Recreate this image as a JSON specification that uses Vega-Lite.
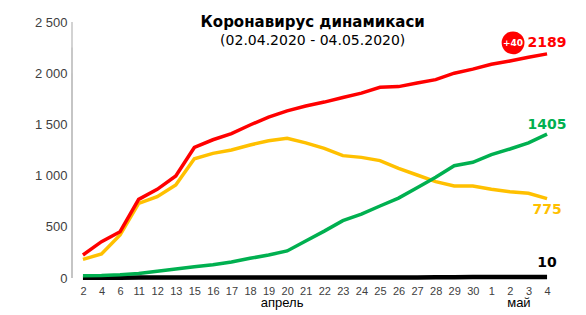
{
  "$schema": "https://vega.github.io/schema/vega-lite/v6.json",
  "width": 486,
  "height": 256,
  "autosize": "none",
  "padding": {"left": 72, "top": 22, "right": 28, "bottom": 37},
  "background": "white",
  "config": {"view": {"stroke": null}, "font": "Liberation Sans"},
  "data": {"values": [
    {"d": "04-02", "confirmed": 225, "active": 182, "recovered": 23, "deaths": 2},
    {"d": "04-04", "confirmed": 355, "active": 234, "recovered": 25, "deaths": 2},
    {"d": "04-06", "confirmed": 452, "active": 420, "recovered": 32, "deaths": 3},
    {"d": "04-11", "confirmed": 768, "active": 729, "recovered": 45, "deaths": 4},
    {"d": "04-12", "confirmed": 866, "active": 794, "recovered": 65, "deaths": 4},
    {"d": "04-13", "confirmed": 996, "active": 908, "recovered": 88, "deaths": 4},
    {"d": "04-15", "confirmed": 1275, "active": 1165, "recovered": 110, "deaths": 4},
    {"d": "04-16", "confirmed": 1350, "active": 1217, "recovered": 130, "deaths": 4},
    {"d": "04-17", "confirmed": 1410, "active": 1250, "recovered": 156, "deaths": 4},
    {"d": "04-18", "confirmed": 1494, "active": 1299, "recovered": 192, "deaths": 5},
    {"d": "04-19", "confirmed": 1572, "active": 1341, "recovered": 225, "deaths": 5},
    {"d": "04-20", "confirmed": 1632, "active": 1364, "recovered": 264, "deaths": 5},
    {"d": "04-21", "confirmed": 1680, "active": 1320, "recovered": 362, "deaths": 5},
    {"d": "04-22", "confirmed": 1718, "active": 1266, "recovered": 458, "deaths": 5},
    {"d": "04-23", "confirmed": 1762, "active": 1195, "recovered": 560, "deaths": 5},
    {"d": "04-24", "confirmed": 1805, "active": 1178, "recovered": 623, "deaths": 5},
    {"d": "04-25", "confirmed": 1862, "active": 1146, "recovered": 703, "deaths": 5},
    {"d": "04-26", "confirmed": 1869, "active": 1071, "recovered": 780, "deaths": 5},
    {"d": "04-27", "confirmed": 1904, "active": 1006, "recovered": 882, "deaths": 6},
    {"d": "04-28", "confirmed": 1937, "active": 941, "recovered": 983, "deaths": 7},
    {"d": "04-29", "confirmed": 2000, "active": 898, "recovered": 1097, "deaths": 8},
    {"d": "04-30", "confirmed": 2040, "active": 898, "recovered": 1130, "deaths": 9},
    {"d": "05-01", "confirmed": 2087, "active": 866, "recovered": 1205, "deaths": 9},
    {"d": "05-02", "confirmed": 2119, "active": 843, "recovered": 1260, "deaths": 10},
    {"d": "05-03", "confirmed": 2155, "active": 827, "recovered": 1320, "deaths": 10},
    {"d": "05-04", "confirmed": 2189, "active": 775, "recovered": 1405, "deaths": 10}
  ]},
  "encoding": {
    "x": {
      "field": "d", "type": "ordinal", "sort": null,
      "scale": {"type": "point", "padding": 0.59,
        "domain": ["04-02","04-04","04-06","04-11","04-12","04-13","04-15","04-16","04-17","04-18","04-19","04-20","04-21","04-22","04-23","04-24","04-25","04-26","04-27","04-28","04-29","04-30","05-01","05-02","05-03","05-04"]},
      "axis": {
        "title": null, "domain": false, "tickSize": 0, "tickOpacity": 0,
        "labelAngle": 0, "labelFontSize": 11, "labelColor": "#404040",
        "labelPadding": 7, "labelOverlap": false,
        "labelExpr": "toNumber(substring(datum.value, 3))"
      }
    }
  },
  "layer": [
    {"data": {"values": [{}]}, "mark": {"type": "rule", "color": "#c4c4c4", "strokeWidth": 1.5}, "encoding": {"y": {"datum": 0, "type": "quantitative"}}},
    {"data": {"values": [{}]}, "mark": {"type": "rule", "color": "#c4c4c4", "strokeWidth": 1.5}, "encoding": {"y": {"datum": 250, "type": "quantitative"}}},
    {"data": {"values": [{}]}, "mark": {"type": "rule", "color": "#c4c4c4", "strokeWidth": 1.5}, "encoding": {"y": {"datum": 500, "type": "quantitative"}}},
    {"data": {"values": [{}]}, "mark": {"type": "rule", "color": "#c4c4c4", "strokeWidth": 1.5}, "encoding": {"y": {"datum": 750, "type": "quantitative"}}},
    {"data": {"values": [{}]}, "mark": {"type": "rule", "color": "#c4c4c4", "strokeWidth": 1.5}, "encoding": {"y": {"datum": 1000, "type": "quantitative"}}},
    {"data": {"values": [{}]}, "mark": {"type": "rule", "color": "#c4c4c4", "strokeWidth": 1.5}, "encoding": {"y": {"datum": 1250, "type": "quantitative"}}},
    {"data": {"values": [{}]}, "mark": {"type": "rule", "color": "#c4c4c4", "strokeWidth": 1.5}, "encoding": {"y": {"datum": 1500, "type": "quantitative"}}},
    {"data": {"values": [{}]}, "mark": {"type": "rule", "color": "#c4c4c4", "strokeWidth": 1.5}, "encoding": {"y": {"datum": 1750, "type": "quantitative"}}},
    {"data": {"values": [{}]}, "mark": {"type": "rule", "color": "#c4c4c4", "strokeWidth": 1.5}, "encoding": {"y": {"datum": 2000, "type": "quantitative"}}},
    {"data": {"values": [{}]}, "mark": {"type": "rule", "color": "#c4c4c4", "strokeWidth": 1.5}, "encoding": {"y": {"datum": 2250, "type": "quantitative"}}},
    {"data": {"values": [{}]}, "mark": {"type": "rule", "color": "#c4c4c4", "strokeWidth": 1.5}, "encoding": {"y": {"datum": 2500, "type": "quantitative"}}},
    {
      "data": {"values": [{}]},
      "mark": {"type": "rect", "color": "white"},
      "encoding": {
        "x": {"datum": "04-13"}, "x2": {"datum": "04-28"},
        "y": {"datum": 2110, "type": "quantitative"},
        "y2": {"datum": 2600}
      }
    },
    {"mark": {"type": "line", "color": "#000000", "strokeWidth": 4.5},
      "encoding": {"y": {"field": "deaths", "type": "quantitative", "scale": {"domain": [0, 2500], "nice": false},
          "axis": {
            "title": null, "domain": false, "tickSize": 0, "tickOpacity": 0, "grid": false,
            "values": [0, 500, 1000, 1500, 2000, 2500],
            "labelExpr": "replace(format(datum.value, ','), ',', ' ')",
            "labelOverlap": false, "labelFontSize": 13, "labelColor": "#404040", "labelPadding": 5
          }}}},
    {"mark": {"type": "line", "color": "#ffc000", "strokeWidth": 3.5}, "encoding": {"y": {"field": "active", "type": "quantitative"}}},
    {"mark": {"type": "line", "color": "#00b050", "strokeWidth": 3.5}, "encoding": {"y": {"field": "recovered", "type": "quantitative"}}},
    {"mark": {"type": "line", "color": "#ff0000", "strokeWidth": 3.5}, "encoding": {"y": {"field": "confirmed", "type": "quantitative"}}},
    {
      "transform": [{"filter": "datum.d == '05-04'"}],
      "layer": [
        {"mark": {"type": "text", "font": "DejaVu Sans", "fontWeight": "bold", "fontSize": 14, "color": "#ff0000", "dy": -11},
          "encoding": {"y": {"field": "confirmed", "type": "quantitative"}, "text": {"field": "confirmed"}}},
        {"mark": {"type": "text", "font": "DejaVu Sans", "fontWeight": "bold", "fontSize": 14, "color": "#00b050", "dy": -9},
          "encoding": {"y": {"field": "recovered", "type": "quantitative"}, "text": {"field": "recovered"}}},
        {"mark": {"type": "text", "font": "DejaVu Sans", "fontWeight": "bold", "fontSize": 14, "color": "#ffc000", "dy": 11},
          "encoding": {"y": {"field": "active", "type": "quantitative"}, "text": {"field": "active"}}},
        {"mark": {"type": "text", "font": "DejaVu Sans", "fontWeight": "bold", "fontSize": 14, "color": "#000000", "dy": -14},
          "encoding": {"y": {"field": "deaths", "type": "quantitative"}, "text": {"field": "deaths"}}},
        {"mark": {"type": "point", "filled": true, "opacity": 1, "color": "#ff0000", "size": 520, "xOffset": -34, "yOffset": -11},
          "encoding": {"y": {"field": "confirmed", "type": "quantitative"}}},
        {"mark": {"type": "text", "font": "DejaVu Sans", "fontWeight": "bold", "fontSize": 9, "letterSpacing": -0.3, "color": "white", "xOffset": -34, "yOffset": -11},
          "encoding": {"y": {"field": "confirmed", "type": "quantitative"}, "text": {"value": "+40"}}}
      ]
    },
    {"data": {"values": [{}]},
      "mark": {"type": "text", "font": "DejaVu Sans", "fontWeight": "bold", "fontSize": 15, "color": "#000000", "dx": 7},
      "encoding": {"x": {"datum": "04-21"}, "y": {"datum": 2500, "type": "quantitative"}, "text": {"value": "Коронавирус динамикаси"}}},
    {"data": {"values": [{}]},
      "mark": {"type": "text", "font": "DejaVu Sans", "fontSize": 14, "color": "#000000", "dx": 7},
      "encoding": {"x": {"datum": "04-21"}, "y": {"datum": 2314, "type": "quantitative"}, "text": {"value": "(02.04.2020 - 04.05.2020)"}}},
    {"data": {"values": [{}]},
      "mark": {"type": "text", "fontSize": 13, "color": "#000000", "dx": -5, "dy": 25},
      "encoding": {"x": {"datum": "04-20"}, "y": {"datum": 0, "type": "quantitative"}, "text": {"value": "апрель"}}},
    {"data": {"values": [{}]},
      "mark": {"type": "text", "fontSize": 13, "color": "#000000", "dx": 9, "dy": 25},
      "encoding": {"x": {"datum": "05-02"}, "y": {"datum": 0, "type": "quantitative"}, "text": {"value": "май"}}}
  ]
}
